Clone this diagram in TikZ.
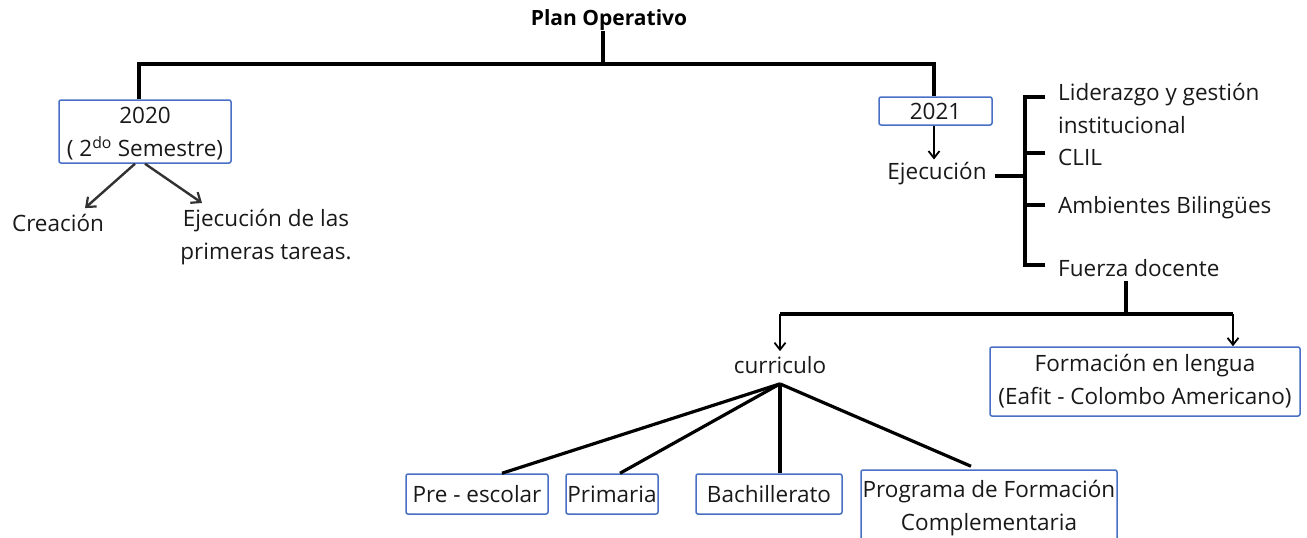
\documentclass[tikz,border=0pt]{standalone}
\usepackage{fontspec}
\setmainfont{Open Sans}
\usetikzlibrary{arrows.meta,calc}
\definecolor{boxblue}{RGB}{72,112,196}
\definecolor{arrgray}{RGB}{50,50,50}
\tikzset{
  txt/.style={inner sep=0pt, font=\fontsize{22.5}{33}\selectfont, text=black!90, align=center},
  bluebox/.style={txt, draw=boxblue, line width=1.5pt, rounded corners=2pt, fill=white},
  tree/.style={line width=3.2pt, black},
  arrline/.style={line width=2.4pt, arrgray, -{Straight Barb[length=8pt,width=13pt,line width=2.2pt]}},
  thinarr/.style={line width=2pt, black, -{Straight Barb[length=7pt,width=11pt,line width=1.8pt]}}
}
\begin{document}
\begin{tikzpicture}[x=1pt,y=-1pt]
\useasboundingbox (0,0) rectangle (1307,538);
% title
\node[txt, font=\fontsize{21}{26}\bfseries, text=black] (title) at (609,20) {Plan Operativo};
\coordinate (j1) at (603,64);
% 2020 branch
\node[bluebox, minimum width=172pt, minimum height=63pt, text depth=-3pt] (b2020) at (145,131.5) {2020\\( 2\textsuperscript{do} Semestre)};
\node[txt] (crea) at (58,223) {Creación};
\node[txt] (ejec1) at (266,237) {Ejecución de las\\primeras tareas.};
% 2021 branch
\node[bluebox, minimum width=113pt, minimum height=28pt] (b2021) at (935.5,111) {2021};
\node[txt] (ejec2) at (937,174) {Ejecución};
\node[txt, anchor=west, align=left] (lid) at (1058,108) {Liderazgo y gestión\\institucional};
\node[txt, anchor=west] (clil) at (1058,157) {CLIL};
\node[txt, anchor=west] (amb) at (1058,208) {Ambientes Bilingües};
\node[txt, anchor=west] (fuerza) at (1058,268) {Fuerza docente};
% lower part
\node[txt] (curr) at (780,365) {curriculo};
\node[bluebox, minimum width=310pt, minimum height=69pt] (form) at (1145,381.5) {Formación en lengua\\(Eafit - Colombo Americano)};
\node[bluebox, minimum width=142pt, minimum height=40pt] (pre) at (477,494) {Pre - escolar};
\node[bluebox, minimum width=92pt, minimum height=40pt] (prim) at (612,494) {Primaria};
\node[bluebox, minimum width=146pt, minimum height=40pt] (bach) at (769,494) {Bachillerato};
\node[bluebox, minimum width=256pt, minimum height=76pt] (prog) at (989,508) {Programa de Formación\\Complementaria};
% connectors: top tree
\draw[tree] (title.south -| j1) -- (j1);
\draw[tree] ([xshift=-6pt]b2020.north) |- (j1) -| ([xshift=-1.5pt]b2021.north);
% 2020 arrows
\draw[arrline] ([xshift=-10pt]b2020.south) -- ([xshift=27pt,yshift=6pt]crea.north);
\draw[arrline] (b2020.south) -- ([xshift=-64pt,yshift=6pt]ejec1.north);
% 2021
\draw[thinarr] ([xshift=-1.5pt]b2021.south) -- ([xshift=-3pt,yshift=3pt]ejec2.north);
\coordinate (br) at (1025,176);
\draw[tree] ([xshift=8pt]ejec2.east |- br) -- (br);
\draw[tree] ([xshift=-13pt,yshift=11pt]lid.west) -| (br);
\draw[tree] ([xshift=-13pt,yshift=4pt]clil.west) -| (br);
\draw[tree] ([xshift=-13pt,yshift=3pt]amb.west) -| (br);
\draw[tree] ([xshift=-13pt,yshift=3pt]fuerza.west) -| (br);
% fuerza docente split
\coordinate (j2) at (1126,314);
\coordinate (a1) at (780,314);
\coordinate (a2) at (1233,314);
\draw[tree] ([yshift=-4pt]fuerza.south -| j2) -- (j2);
\draw[tree] (a1) -- (a2);
\draw[thinarr] (a1) -- ([yshift=5pt]curr.north);
\draw[thinarr] (a2) -- (a2 |- form.north);
% curriculo fan
\coordinate (apex) at ([yshift=-10pt]curr.south);
\draw[tree] (apex) -- ([xshift=25pt]pre.north);
\draw[tree] (apex) -- ([xshift=8pt]prim.north);
\draw[tree] (apex) -- (apex |- bach.north);
\draw[tree] (apex) -- ([xshift=-18pt,yshift=3pt]prog.north);
\end{tikzpicture}
\end{document}
